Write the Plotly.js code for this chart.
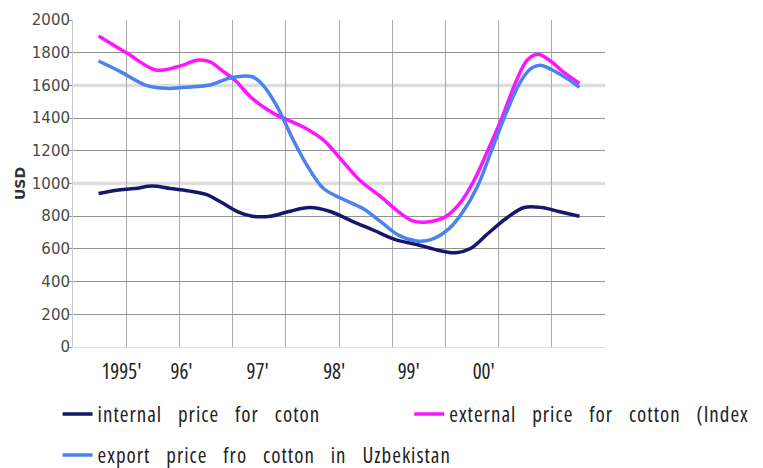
<!DOCTYPE html>
<html><head><meta charset="utf-8">
<script src="https://cdn.plot.ly/plotly-3.0.1.min.js"></script>
<style>
html,body{margin:0;padding:0;background:#fff;}
#chart{width:763px;height:468px;}
.legendtext, .legend2text, .legend3text{font-stretch:75% !important; letter-spacing:1px; word-spacing:11px;}
.x2tick text{font-stretch:75% !important;}
</style>
</head><body><div id="chart"></div>
<script>
// Series names
const nameInternal = "internal price for coton";
const nameExternal = "external price for cotton (Index A)";
const nameExport = "export price fro cotton in Uzbekistan";

// Time position (in grid-column units, 0..10) and USD values
const internalX = [0.48,0.82,1.16,1.49,1.83,2.16,2.50,2.77,3.10,3.37,3.71,4.04,4.45,4.85,5.25,5.65,6.06,6.46,6.86,7.20,7.47,7.80,8.14,8.48,8.81,9.15,9.52];
const internalY = [939,959,969,984,969,955,933,888,827,800,800,827,853,827,769,714,657,627,592,576,602,694,786,853,853,827,800];

const externalX = [0.48,1.02,1.56,1.96,2.36,2.57,2.83,3.04,3.37,3.77,4.11,4.38,4.71,5.05,5.39,5.79,6.12,6.39,6.66,7.00,7.27,7.54,7.80,8.07,8.34,8.54,8.74,8.95,9.21,9.52];
const externalY = [1902,1796,1694,1714,1755,1745,1684,1633,1520,1429,1378,1337,1265,1143,1020,918,827,771,765,796,878,1020,1204,1408,1633,1755,1790,1755,1684,1612];

const exportX = [0.48,0.89,1.36,1.76,2.10,2.57,2.97,3.37,3.57,3.84,4.11,4.38,4.71,5.05,5.45,5.79,6.12,6.46,6.73,7.07,7.33,7.60,7.87,8.14,8.41,8.61,8.78,9.01,9.28,9.52];
const exportY = [1749,1684,1602,1582,1588,1602,1647,1653,1602,1469,1286,1122,969,908,847,765,684,649,657,724,827,980,1204,1429,1622,1704,1724,1694,1643,1588];

// Year tick labels
const yearLabels = ["1995'","96'","97'","98'","99'","00'"];
const yearLabelAt = [0.91,2.04,3.47,4.91,6.31,7.72];

// Value-axis levels; two of the gridlines look lighter/thicker in the picture
const yLevels = [200,400,600,800,1000,1200,1400,1600,1800,2000];
const lightGridLevels = [1600, 1000];
const darkGridLevels = yLevels.filter(v => !lightGridLevels.includes(v));

const traces = [
  {x: internalX, y: internalY, name: nameInternal, type: 'scatter', mode: 'lines',
   line: {color: '#16166a', width: 3.5, shape: 'spline', smoothing: 1}, legend: 'legend'},
  {x: externalX, y: externalY, name: nameExternal, type: 'scatter', mode: 'lines',
   line: {color: '#ff14ff', width: 3.5, shape: 'spline', smoothing: 1}, legend: 'legend2'},
  {x: exportX, y: exportY, name: nameExport, type: 'scatter', mode: 'lines',
   line: {color: '#4a82ee', width: 3.5, shape: 'spline', smoothing: 1}, legend: 'legend3'},
  {x: [], y: [], xaxis: 'x2', yaxis: 'y', showlegend: false, hoverinfo: 'skip', type: 'scatter'},
  {x: [], y: [], xaxis: 'x', yaxis: 'y2', showlegend: false, hoverinfo: 'skip', type: 'scatter'}
];

const tf = 'Open Sans, sans-serif';
const legFont = {family: tf, size: 21, color: '#222'};

const layout = {
  width: 763, height: 468,
  margin: {l: 73, r: 158, t: 20, b: 121, autoexpand: false},
  paper_bgcolor: '#fff', plot_bgcolor: '#fff',
  showlegend: true,
  xaxis: {range: [0, 10], dtick: 1, tick0: 0, showticklabels: false, showgrid: true,
          gridcolor: '#ababab', gridwidth: 1, zeroline: false, showline: true, linecolor: '#dddddd', ticks: ''},
  xaxis2: {overlaying: 'x', side: 'bottom', range: [0, 10], tickmode: 'array',
           tickvals: yearLabelAt, ticktext: yearLabels, showgrid: false, zeroline: false,
           showline: false, ticks: 'outside', ticklen: 6, tickcolor: 'rgba(0,0,0,0)',
           tickfont: {family: tf, size: 21, color: '#222'}},
  yaxis: {range: [0, 2000], dtick: 200, showgrid: false,
          zeroline: false, showline: true, linecolor: '#cccccc', ticks: 'outside', ticklen: 3,
          ticklabelstandoff: -4,
          tickcolor: '#999', tickfont: {family: 'DejaVu Sans, sans-serif', size: 15, color: '#4a4a4a'},
          title: {text: 'USD', font: {family: 'DejaVu Sans, sans-serif', size: 14, color: '#333', weight: 'bold'}, standoff: 2}},
  yaxis2: {overlaying: 'y', range: [0, 2000], tickmode: 'array', tickvals: darkGridLevels,
           showticklabels: false, showgrid: true, gridcolor: '#929292', gridwidth: 1,
           zeroline: false, showline: false, ticks: ''},
  shapes: lightGridLevels.map(v => ({type: 'line', xref: 'paper', x0: 0, x1: 1, yref: 'y', y0: v, y1: v,
           layer: 'below', line: {color: '#dedede', width: 3.5}})),
  legend: {orientation: 'h', x: -0.029, xanchor: 'left', y: -0.206, yanchor: 'middle',
           bgcolor: 'rgba(0,0,0,0)', font: legFont},
  legend2: {orientation: 'h', x: 0.632, xanchor: 'left', y: -0.206, yanchor: 'middle',
           bgcolor: 'rgba(0,0,0,0)', font: legFont},
  legend3: {orientation: 'h', x: -0.029, xanchor: 'left', y: -0.331, yanchor: 'middle',
           bgcolor: 'rgba(0,0,0,0)', font: legFont}
};

Plotly.newPlot('chart', traces, layout, {displayModeBar: false, staticPlot: true});
</script>
</body></html>
